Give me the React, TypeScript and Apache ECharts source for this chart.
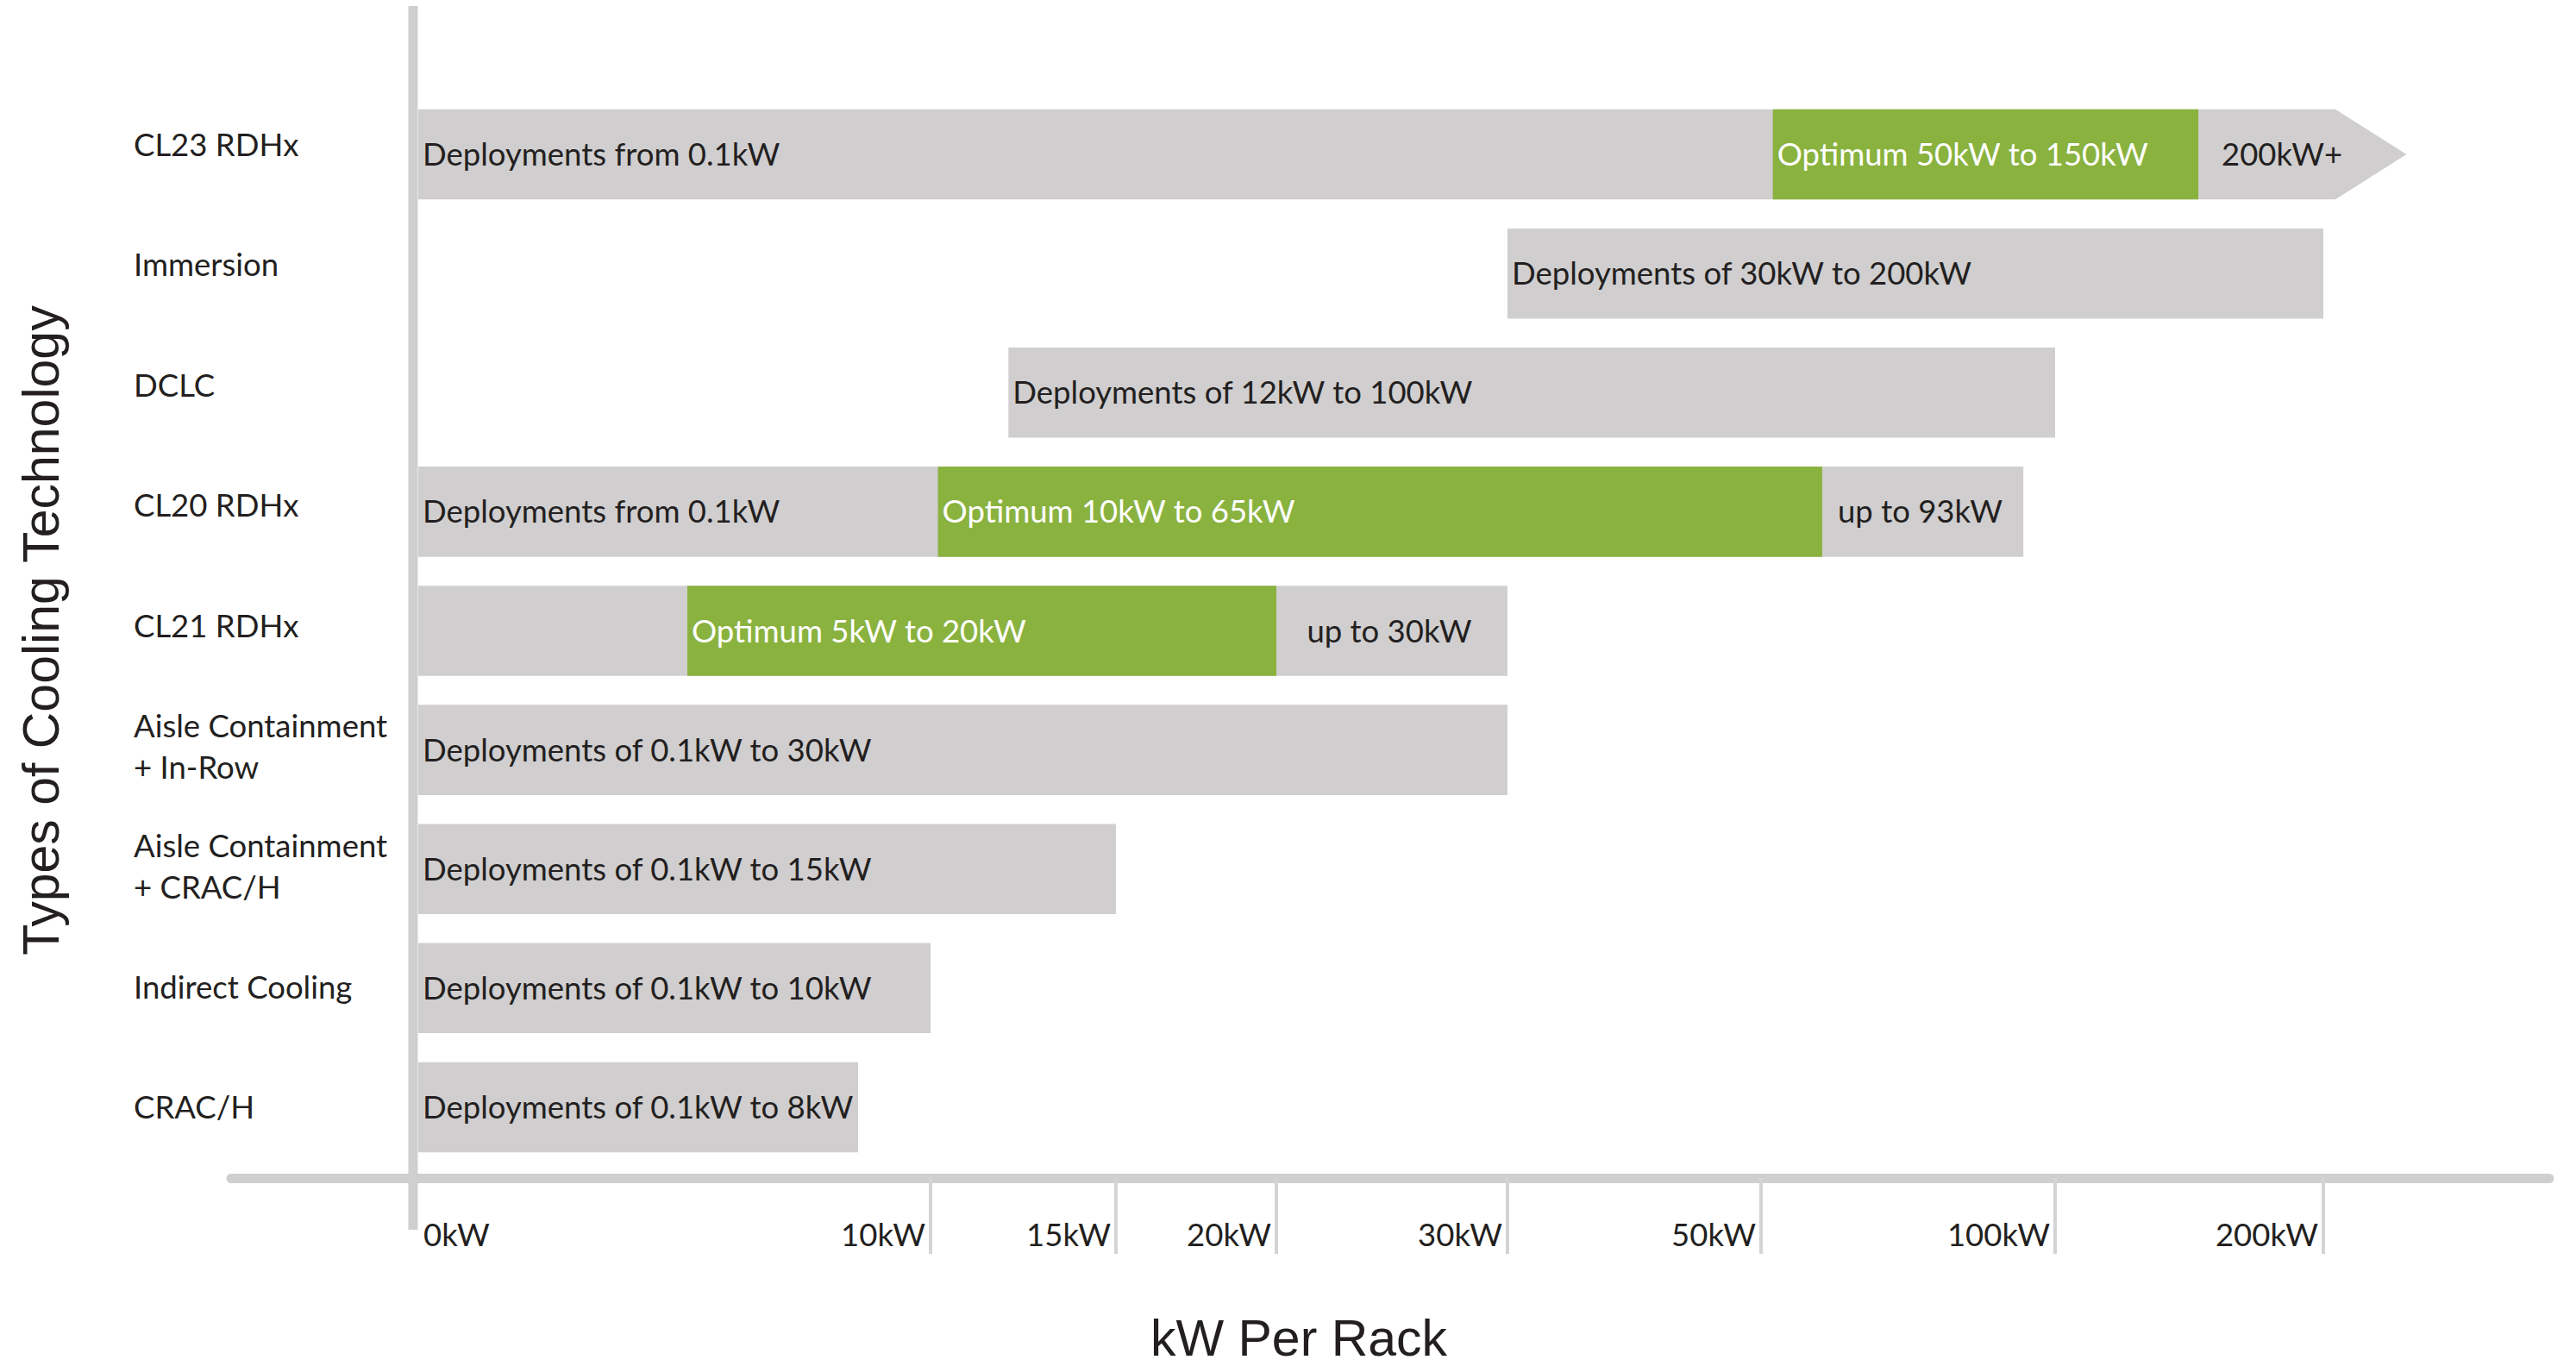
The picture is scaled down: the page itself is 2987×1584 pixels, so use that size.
import { useEffect, useRef } from 'react';
import * as echarts from 'echarts';

// ---- categories (top to bottom) ----
const CATEGORIES = [
  'CL23 RDHx',
  'Immersion',
  'DCLC',
  'CL20 RDHx',
  'CL21 RDHx',
  'Aisle Containment\n+ In-Row',
  'Aisle Containment\n+ CRAC/H',
  'Indirect Cooling',
  'CRAC/H',
];

// ---- non-linear kW axis: tick values, their labels, and where each sits on the axis ----
const TICK_KW = [0, 10, 15, 20, 30, 50, 100, 200];
const TICK_LABELS = ['0kW', '10kW', '15kW', '20kW', '30kW', '50kW', '100kW', '200kW'];
const TICK_AXIS_POS = [0, 600, 815, 1001, 1269, 1563, 1904, 2215];
const AXIS_MIN = -211;
const AXIS_MAX = 2477;

// ---- deployment ranges (grey), kW ----
const RANGE_FROM = [0.1, 30, 12.1, 0.1, 0.1, 0.1, 0.1, 0.1, 0.1];
const RANGE_TO = [204.5, 200, 100, 94.6, 30, 30, 15, 10, 8.6];
const RANGE_ARROW_TIP: (number | null)[] = [231, null, null, null, null, null, null, null, null];
const RANGE_LABELS = [
  'Deployments from 0.1kW',
  'Deployments of 30kW to 200kW',
  'Deployments of 12kW to 100kW',
  'Deployments from 0.1kW',
  '',
  'Deployments of 0.1kW to 30kW',
  'Deployments of 0.1kW to 15kW',
  'Deployments of 0.1kW to 10kW',
  'Deployments of 0.1kW to 8kW',
];

// ---- optimum ranges (green), kW ----
const OPT_CATEGORY = [0, 3, 4];
const OPT_FROM = [52, 10.2, 5.3];
const OPT_TO = [153.4, 60.4, 20];
const OPT_LABELS = ['Optimum 50kW to 150kW', 'Optimum 10kW to 65kW', 'Optimum 5kW to 20kW'];
const TAIL_LABELS = ['200kW+', 'up to 93kW', 'up to 30kW'];

const GREY = '#d0cecf';
const GREEN = '#8ab23f';
const TEXT = '#231f20';
const AXIS_GREY = '#d0cfd0';
const LABEL_FONT = 'Lato, "Noto Sans", sans-serif';
const TITLE_FONT = '"Liberation Sans", Arial, sans-serif';
const LABEL_SIZE = 36.5;
const BAR_RATIO = 0.757;
const TEXT_DY = -1;

function kwToAxis(kw: number): number {
  const n = TICK_KW.length;
  if (kw >= TICK_KW[n - 1]) {
    const slope = (TICK_AXIS_POS[n - 1] - TICK_AXIS_POS[n - 2]) / (TICK_KW[n - 1] - TICK_KW[n - 2]);
    return TICK_AXIS_POS[n - 1] + (kw - TICK_KW[n - 1]) * slope;
  }
  for (let i = 0; i < n - 1; i++) {
    if (kw <= TICK_KW[i + 1]) {
      const t = (kw - TICK_KW[i]) / (TICK_KW[i + 1] - TICK_KW[i]);
      return TICK_AXIS_POS[i] + t * (TICK_AXIS_POS[i + 1] - TICK_AXIS_POS[i]);
    }
  }
  return 0;
}

function tickLabel(v: number): string {
  const i = TICK_AXIS_POS.indexOf(v);
  return i >= 0 ? TICK_LABELS[i] : '';
}

function textEl(text: string, x: number, y: number, fill: string, align: string) {
  return {
    type: 'text',
    x,
    y: y + TEXT_DY,
    style: {
      text,
      fill,
      fontSize: LABEL_SIZE,
      fontFamily: LABEL_FONT,
      align,
      verticalAlign: 'middle',
    },
  };
}

export default function App() {
  const ref = useRef<HTMLDivElement>(null);

  useEffect(() => {
    if (!ref.current) return;
    const chart = echarts.init(ref.current, null, { renderer: 'svg' });

    const rangeData = CATEGORIES.map((_, i) => [kwToAxis(RANGE_FROM[i]), kwToAxis(RANGE_TO[i]), i]);
    const optData = OPT_CATEGORY.map((c, j) => [kwToAxis(OPT_FROM[j]), kwToAxis(OPT_TO[j]), c]);
    const tailData = OPT_CATEGORY.map((c, j) => {
      const tip = RANGE_ARROW_TIP[c];
      const end = tip != null ? (kwToAxis(RANGE_TO[c]) + kwToAxis(tip)) / 2 : kwToAxis(RANGE_TO[c]);
      return [kwToAxis(OPT_TO[j]), end, c];
    });

    const option: any = {
      animation: false,
      grid: [
        // plotting grid
        { left: 268, right: 31, top: 110, bottom: 231, containLabel: false, outerBoundsMode: 'none' },
        // label grid: category names are spaced slightly wider and sit a little higher
        { left: 268, right: 31, top: 97, bottom: 231, containLabel: false, outerBoundsMode: 'none' },
      ],
      xAxis: [
        {
          type: 'value',
          gridIndex: 0,
          min: AXIS_MIN,
          max: AXIS_MAX,
          offset: 13,
          axisLine: { show: true, onZero: false, lineStyle: { color: AXIS_GREY, width: 11 } },
          axisTick: {
            show: true,
            customValues: TICK_AXIS_POS.slice(1),
            length: 88,
            lineStyle: { color: '#d4d4d4', width: 4 },
          },
          axisLabel: {
            show: true,
            customValues: TICK_AXIS_POS.slice(1),
            formatter: (v: number) => tickLabel(v),
            align: 'right',
            verticalAlign: 'middle',
            padding: [0, 6, 0, 0],
            margin: 65,
            color: TEXT,
            fontSize: LABEL_SIZE,
            fontFamily: LABEL_FONT,
          },
          splitLine: { show: false },
        },
        {
          type: 'value',
          gridIndex: 0,
          min: AXIS_MIN,
          max: AXIS_MAX,
          offset: 13,
          position: 'bottom',
          axisLine: { show: false },
          axisTick: { show: false },
          axisLabel: {
            show: true,
            customValues: [TICK_AXIS_POS[0]],
            formatter: (v: number) => tickLabel(v),
            align: 'left',
            verticalAlign: 'middle',
            padding: [0, 0, 0, 12],
            margin: 65,
            color: TEXT,
            fontSize: LABEL_SIZE,
            fontFamily: LABEL_FONT,
          },
          splitLine: { show: false },
        },
        {
          type: 'value',
          gridIndex: 1,
          min: AXIS_MIN,
          max: AXIS_MAX,
          show: false,
        },
      ],
      yAxis: [
        {
          type: 'category',
          gridIndex: 0,
          inverse: true,
          data: CATEGORIES,
          axisLine: { show: false },
          axisTick: { show: false },
          splitLine: { show: false },
          axisLabel: { show: false },
        },
        {
          type: 'category',
          gridIndex: 1,
          inverse: true,
          data: CATEGORIES,
          axisLine: { show: false },
          axisTick: { show: false },
          splitLine: { show: false },
          axisLabel: {
            align: 'left',
            verticalAlign: 'middle',
            margin: 113,
            lineHeight: 48,
            color: TEXT,
            fontSize: LABEL_SIZE,
            fontFamily: LABEL_FONT,
          },
        },
      ],
      series: [
        {
          name: 'Deployment range',
          type: 'custom',
          xAxisIndex: 0,
          yAxisIndex: 0,
          silent: true,
          encode: { x: [0, 1], y: 2 },
          data: rangeData,
          renderItem: (params: any, api: any) => {
            const c = api.value(2);
            const p0 = api.coord([api.value(0), c]);
            const p1 = api.coord([api.value(1), c]);
            const h = api.size([0, 1])[1] * BAR_RATIO;
            const top = p0[1] - h / 2;
            const children: any[] = [];
            const tip = RANGE_ARROW_TIP[c];
            if (tip != null) {
              const pt = api.coord([kwToAxis(tip), c]);
              children.push({
                type: 'polygon',
                shape: {
                  points: [
                    [p0[0], top],
                    [p1[0], top],
                    [pt[0], p0[1]],
                    [p1[0], top + h],
                    [p0[0], top + h],
                  ],
                },
                style: { fill: GREY },
              });
            } else {
              children.push({
                type: 'rect',
                shape: { x: p0[0], y: top, width: p1[0] - p0[0], height: h },
                style: { fill: GREY },
              });
            }
            if (RANGE_LABELS[c]) children.push(textEl(RANGE_LABELS[c], p0[0] + 5, p0[1], TEXT, 'left'));
            return { type: 'group', children };
          },
        },
        {
          name: 'Optimum range',
          type: 'custom',
          xAxisIndex: 0,
          yAxisIndex: 0,
          silent: true,
          encode: { x: [0, 1], y: 2 },
          data: optData,
          renderItem: (params: any, api: any) => {
            const c = api.value(2);
            const p0 = api.coord([api.value(0), c]);
            const p1 = api.coord([api.value(1), c]);
            const h = api.size([0, 1])[1] * BAR_RATIO;
            return {
              type: 'group',
              children: [
                {
                  type: 'rect',
                  shape: { x: p0[0], y: p0[1] - h / 2, width: p1[0] - p0[0], height: h },
                  style: { fill: GREEN },
                },
                textEl(OPT_LABELS[params.dataIndex], p0[0] + 5, p0[1], '#ffffff', 'left'),
              ],
            };
          },
        },
        {
          name: 'Upper limit',
          type: 'custom',
          xAxisIndex: 0,
          yAxisIndex: 0,
          silent: true,
          encode: { x: [0, 1], y: 2 },
          data: tailData,
          renderItem: (params: any, api: any) => {
            const c = api.value(2);
            const p0 = api.coord([api.value(0), c]);
            const p1 = api.coord([api.value(1), c]);
            return textEl(TAIL_LABELS[params.dataIndex], (p0[0] + p1[0]) / 2 - 3, p0[1], TEXT, 'center');
          },
        },
      ],
    };

    chart.setOption(option);
    const x0 = chart.convertToPixel({ xAxisIndex: 0 }, 0) as number;
    chart.setOption({
      graphic: [
        {
          type: 'line',
          z: 10,
          silent: true,
          shape: { x1: x0, y1: 7, x2: x0, y2: 1426 },
          style: { stroke: AXIS_GREY, lineWidth: 11 },
        },
        {
          type: 'text',
          x: 48,
          y: 731,
          rotation: Math.PI / 2,
          silent: true,
          style: {
            text: 'Types of Cooling Technology',
            fill: TEXT,
            fontSize: 59,
            fontFamily: TITLE_FONT,
            align: 'center',
            verticalAlign: 'middle',
          },
        },
        {
          type: 'text',
          x: 1506,
          y: 1552,
          silent: true,
          style: {
            text: 'kW Per Rack',
            fill: TEXT,
            fontSize: 59,
            fontFamily: TITLE_FONT,
            align: 'center',
            verticalAlign: 'middle',
          },
        },
      ],
    });

    return () => chart.dispose();
  }, []);

  return (
    <div
      ref={ref}
      style={{ position: 'fixed', left: 0, top: 0, width: 2987, height: 1584, background: '#ffffff' }}
    />
  );
}
